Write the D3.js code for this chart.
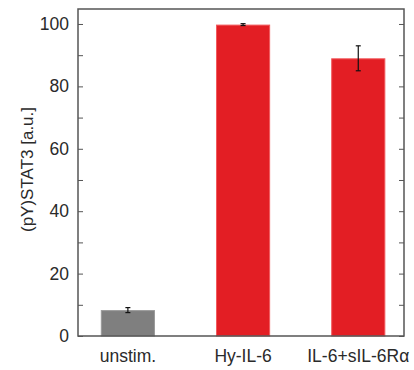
<!DOCTYPE html>
<html>
<head>
<meta charset="utf-8">
<script src="https://cdn.jsdelivr.net/npm/d3@7"></script>
<style>
body { margin: 0; background: #fff; }
text { font-family: "Liberation Sans", Arial, sans-serif; fill: #2a2a2a; }
</style>
</head>
<body>
<svg id="chart" width="414" height="370"></svg>
<script>
//data
var categories = ['unstim.', 'Hy-IL-6', 'IL-6+sIL-6R\u03b1'];
var values = [8.3, 99.8, 89.0];
var errors = [0.8, 0.3, 4.0];
var barColors = ['#7f7f7f', '#e31e24', '#e31e24'];
var edgeColors = ['#999', '#f25a5e', '#f25a5e'];
var yTicks = [0, 20, 40, 60, 80, 100];

var rows = categories.map(function(c, i){
	return {name: c, value: values[i], err: errors[i], col: barColors[i], edge: edgeColors[i]};
});

//plot box (window.top is taken, so m prefix)
var mLeft = 78, mRight = 404, mTop = 9, mBottom = 336;

var svg = d3.select('#chart');

var x = d3.scaleBand()
			.domain(categories)
			.range([mLeft, mRight])
			.paddingInner(0.53)
			.paddingOuter(0.18)
			.align(0.55);

var y = d3.scaleLinear()
			.domain([0, 104.8])
			.range([mBottom, mTop]);

//bars
svg.selectAll('rect.bar').data(rows)
	.enter()
	.append('rect')
	.attr('class', 'bar')
	.attr('x', function(d){ return x(d.name) + 0.5 })
	.attr('width', x.bandwidth() - 1)
	.attr('y', function(d){ return y(d.value) + 0.5 })
	.attr('height', function(d){ return y(0) - y(d.value) - 0.5 })
	.attr('fill', function(d){ return d.col })
	.attr('stroke', function(d){ return d.edge })
	.attr('stroke-width', 1);

//error bars
var eb = svg.selectAll('g.err').data(rows)
	.enter()
	.append('g')
	.attr('class', 'err')
	.attr('stroke', '#111')
	.attr('stroke-width', 1.2);

eb.append('line')
	.attr('x1', function(d){ return x(d.name) + x.bandwidth() / 2 })
	.attr('x2', function(d){ return x(d.name) + x.bandwidth() / 2 })
	.attr('y1', function(d){ return y(d.value + d.err) })
	.attr('y2', function(d){ return y(d.value - d.err) });

[1, -1].forEach(function(s){
	eb.append('line')
		.attr('x1', function(d){ return x(d.name) + x.bandwidth() / 2 - 2.5 })
		.attr('x2', function(d){ return x(d.name) + x.bandwidth() / 2 + 2.5 })
		.attr('y1', function(d){ return y(d.value + s * d.err) })
		.attr('y2', function(d){ return y(d.value + s * d.err) });
});

//axes
var minor = d3.range(0, 101, 10);

var yAxis = svg.append('g')
	.attr('transform', 'translate(' + mLeft + ',0)')
	.call(d3.axisRight(y).tickValues(minor).tickSize(5).tickFormat(''));

var yLabels = svg.append('g')
	.attr('transform', 'translate(' + mLeft + ',0)')
	.call(d3.axisLeft(y).tickValues(yTicks).tickSize(0).tickPadding(9));

var yRight = svg.append('g')
	.attr('transform', 'translate(' + mRight + ',0)')
	.call(d3.axisLeft(y).tickValues(minor).tickSize(5).tickFormat(''));

var xAxis = svg.append('g')
	.attr('transform', 'translate(0,' + mBottom + ')')
	.call(d3.axisBottom(x).tickSize(0).tickPadding(14));

svg.selectAll('.domain').remove();
svg.selectAll('.tick line').attr('stroke', '#555').attr('stroke-width', 1);
yLabels.selectAll('text').style('font-size', '17.5px').attr('fill', '#2a2a2a');
xAxis.selectAll('text').style('font-size', '17.5px').attr('fill', '#2a2a2a').attr('dy', '0.71em');

//frame
svg.append('rect')
	.attr('x', mLeft)
	.attr('y', mTop)
	.attr('width', mRight - mLeft)
	.attr('height', mBottom - mTop)
	.attr('fill', 'none')
	.attr('stroke', '#555')
	.attr('stroke-width', 1.5);

svg.append('text')
	.attr('transform', 'translate(33,' + ((mTop + mBottom) / 2 - 3) + ') rotate(-90)')
	.style('text-anchor', 'middle')
	.style('font-size', '17px')
	.text('(pY)STAT3 [a.u.]');
</script>
</body>
</html>
